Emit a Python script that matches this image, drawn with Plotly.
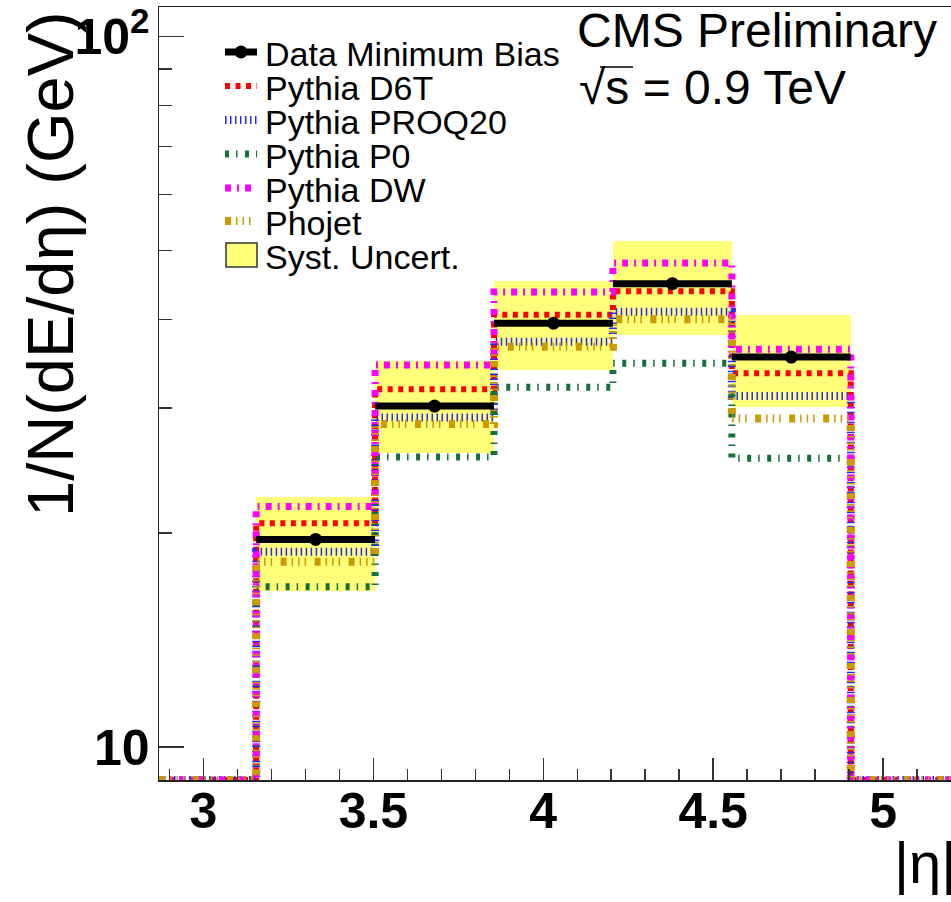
import plotly.graph_objects as go
import math

# ---------------- data ----------------
bin_edges = [3.155, 3.505, 3.855, 4.205, 4.555, 4.905]
data_mb = [19.6, 30.2, 39.5, 44.9, 35.4]
syst_lo = [16.6, 25.9, 34.0, 38.0, 30.1]
syst_hi = [22.5, 34.9, 45.3, 51.5, 40.6]
pythia_d6t = [20.65, 31.9, 40.6, 43.8, 33.6]
pythia_proq20 = [18.84, 29.1, 37.2, 41.0, 31.2]
pythia_p0 = [16.82, 25.6, 32.1, 34.7, 25.5]
pythia_dw = [21.8, 34.5, 43.7, 48.0, 36.3]
phojet = [18.24, 28.5, 36.6, 40.0, 29.0]

x_ticks = [3, 3.5, 4, 4.5, 5]
x_ticktext = ["3", "3.5", "4", "4.5", "5"]
y_ticks = [10, 100]
y_ticktext = ["10", "10<sup>2</sup>"]
y_minor = [9, 20, 30, 40, 50, 60, 70, 80, 90]

X_RANGE = [2.869, 5.200]
Y_MIN, Y_MAX = 8.987, 110.1

# ---------------- layout geometry ----------------
W, H = 951, 902
ML, MR, MT, MB = 159, 0, 7, 122
PW, PH = W - ML - MR, H - MT - MB


def px(x):
    return (x - ML) / PW


def py(y):
    return 1 - (y - MT) / PH


FONT = "Liberation Sans, Arial, Helvetica, sans-serif"

models = [
    ("Pythia D6T", pythia_d6t, "#ff0000", 6, "5px,5.5px"),
    ("Pythia PROQ20", pythia_proq20, "#2a2aff", 8, "1.5px,3.5px"),
    ("Pythia P0", pythia_p0, "#17703a", 7, "4px,7px,1.5px,7.5px"),
    ("Pythia DW", pythia_dw, "#ff00ff", 7, "6px,6px,2px,6px"),
    ("Phojet", phojet, "#cc9900", 8, "6px,5px,1.5px,5px,1.5px,5px,1.5px,8.5px"),
]

centers = [(bin_edges[i] + bin_edges[i + 1]) / 2 for i in range(len(data_mb))]
widths = [bin_edges[i + 1] - bin_edges[i] for i in range(len(data_mb))]

fig = go.Figure()

# systematic band
fig.add_trace(go.Bar(
    x=centers, y=[h - l for h, l in zip(syst_hi, syst_lo)], base=syst_lo,
    width=widths, marker=dict(color="#ffff7a", line=dict(width=0)),
    name="Syst. Uncert.", showlegend=False, hoverinfo="skip"))

# model step histograms
step_x = [X_RANGE[0]] + bin_edges + [X_RANGE[1]]
for name, vals, col, lw, dash in models:
    step_y = [Y_MIN] + vals + [Y_MIN, Y_MIN]
    fig.add_trace(go.Scatter(
        x=step_x, y=step_y, mode="lines", line=dict(shape="hv", color=col, width=lw, dash=dash),
        name=name, showlegend=False))

# data
dx, dy = [], []
for i, v in enumerate(data_mb):
    dx += [bin_edges[i], bin_edges[i + 1], None]
    dy += [v, v, None]
fig.add_trace(go.Scatter(x=dx, y=dy, mode="lines", line=dict(color="black", width=7),
                         showlegend=False, name="Data Minimum Bias"))
fig.add_trace(go.Scatter(x=centers, y=data_mb, mode="markers",
                         marker=dict(color="black", size=13), showlegend=False,
                         name="Data Minimum Bias"))

# ---------------- manual legend ----------------
shapes = []
annotations = []
leg_rows = [52, 86, 120, 154, 188, 221, 255]
leg_labels = ["Data Minimum Bias"] + [m[0] for m in models] + ["Syst. Uncert."]
sx0, sx1, tx = 225, 257, 263
# data sample
shapes.append(dict(type="line", xref="paper", yref="paper", x0=px(sx0), x1=px(sx1),
                   y0=py(leg_rows[0]), y1=py(leg_rows[0]), line=dict(color="black", width=7)))
shapes.append(dict(type="circle", xref="paper", yref="paper", x0=px(241 - 6.5), x1=px(241 + 6.5),
                   y0=py(leg_rows[0] + 6.5), y1=py(leg_rows[0] - 6.5), fillcolor="black",
                   line=dict(width=0)))
for (name, vals, col, lw, dash), ry in zip(models, leg_rows[1:6]):
    shapes.append(dict(type="line", xref="paper", yref="paper", x0=px(sx0), x1=px(sx1),
                       y0=py(ry), y1=py(ry), line=dict(color=col, width=lw, dash=dash)))
shapes.append(dict(type="rect", xref="paper", yref="paper", x0=px(226), x1=px(257),
                   y0=py(267), y1=py(243), fillcolor="#ffff7a", line=dict(color="#333", width=1.5)))
for lab, ry in zip(leg_labels, leg_rows):
    annotations.append(dict(text=lab, xref="paper", yref="paper", x=px(tx), y=py(ry + 2),
                            xanchor="left", yanchor="middle", showarrow=False,
                            font=dict(family=FONT, size=34, color="black")))

# CMS text
annotations.append(dict(text="CMS Preliminary", xref="paper", yref="paper", x=px(575), y=py(31),
                        xanchor="left", yanchor="middle", showarrow=False,
                        font=dict(family=FONT, size=48, color="black")))
annotations.append(dict(text="√s = 0.9 TeV", xref="paper", yref="paper", x=px(577), y=py(88),
                        xanchor="left", yanchor="middle", showarrow=False,
                        font=dict(family=FONT, size=48, color="black")))
shapes.append(dict(type="line", xref="paper", yref="paper", x0=px(600), x1=px(633),
                   y0=py(67), y1=py(67), line=dict(color="black", width=1.5)))

# axis titles
annotations.append(dict(text="1/N(dE/dη) (GeV)", xref="paper", yref="paper", x=px(50), y=py(264),
                        xanchor="center", yanchor="middle", textangle=-90, showarrow=False,
                        font=dict(family=FONT, size=65, color="black")))
annotations.append(dict(text="|η|", xref="paper", yref="paper", x=px(892), y=py(862),
                        xanchor="left", yanchor="middle", showarrow=False,
                        font=dict(family=FONT, size=58, color="black")))

fig.update_layout(
    width=W, height=H, margin=dict(l=ML, r=MR, t=MT, b=MB),
    paper_bgcolor="white", plot_bgcolor="white", showlegend=False,
    barmode="overlay", bargap=0,
    shapes=shapes, annotations=annotations,
    xaxis=dict(range=X_RANGE, tickvals=x_ticks, ticktext=x_ticktext, ticks="inside",
               ticklen=22, tickwidth=1.5, tickcolor="#333", showline=True, linecolor="#222",
               linewidth=1.5, mirror=True, showgrid=False, zeroline=False,
               tickfont=dict(family=FONT, size=50, color="black", weight="bold"),
               ticklabelstandoff=-14,
               minor=dict(dtick=0.1, tick0=0, ticks="inside", ticklen=11, tickwidth=1.5,
                          tickcolor="#333", showgrid=False)),
    yaxis=dict(type="log", range=[math.log10(Y_MIN), math.log10(Y_MAX)], tickvals=y_ticks,
               ticktext=y_ticktext, ticks="inside", ticklen=25, tickwidth=1.5, tickcolor="#333",
               showline=True, linecolor="#222", linewidth=1.5, mirror=False, showgrid=False,
               zeroline=False, tickfont=dict(family=FONT, size=50, color="black", weight="bold"),
               ticklabelstandoff=-2,
               minor=dict(tickvals=y_minor, ticks="inside", ticklen=13, tickwidth=1.5,
                          tickcolor="#333", showgrid=False)),
)

fig.write_html("out.html", config={"displayModeBar": False, "staticPlot": True},
               post_script="document.body.style.margin='0';document.body.style.padding='0';")
